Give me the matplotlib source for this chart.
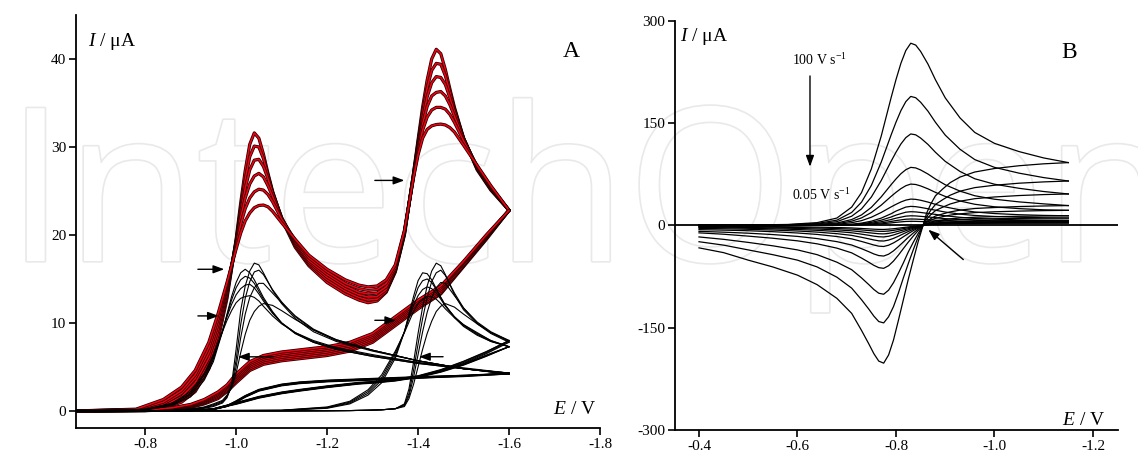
import matplotlib
matplotlib.use('Agg')
import matplotlib.pyplot as plt
from matplotlib import patheffects as pe

plt.rcParams['font.family'] = ['Liberation Serif', 'DejaVu Serif']
plt.rcParams['mathtext.fontset'] = 'custom'
plt.rcParams['mathtext.rm'] = 'Liberation Serif'
plt.rcParams['mathtext.it'] = 'Liberation Serif:italic'
plt.rcParams['axes.unicode_minus'] = False

# ---------------- Panel A data ----------------
# red family: forward scan potentials (V) and currents (uA)
red_fwd_E = [-0.65, -0.78, -0.84, -0.88, -0.91, -0.94, -0.96, -0.98, -1.00, -1.01, -1.02, -1.03, -1.04,
             -1.05, -1.06, -1.07, -1.08, -1.10, -1.13, -1.16, -1.20, -1.24, -1.27, -1.29, -1.31, -1.33,
             -1.35, -1.37, -1.39, -1.40, -1.41, -1.42, -1.43, -1.44, -1.45, -1.46, -1.47, -1.48, -1.50,
             -1.53, -1.56, -1.60]
red_fwd_1 = [0, 0.05, 0.3, 1.0, 2.2, 4.8, 8.0, 12.8, 19.5, 23.6, 27.3, 30.3, 31.6, 31.0, 29.2, 27.0, 25.0,
             21.8, 18.6, 16.5, 14.6, 13.3, 12.6, 12.3, 12.5, 13.5, 15.8, 20.0, 27.0, 30.8, 34.5, 37.6, 40.0,
             41.1, 40.6, 38.8, 36.6, 34.5, 31.0, 27.4, 25.1, 22.8]
red_fwd_2 = [0, 0.07, 0.45, 1.3, 2.7, 5.4, 8.6, 13.2, 19.3, 23.0, 26.3, 28.9, 30.1, 30.0, 28.7, 26.8, 24.9,
             21.9, 18.8, 16.7, 14.9, 13.6, 12.9, 12.6, 12.7, 13.6, 15.9, 20.1, 26.9, 30.5, 33.9, 36.7, 38.7,
             39.5, 39.4, 38.1, 36.2, 34.3, 31.0, 27.5, 25.2, 22.8]
red_fwd_3 = [0, 0.1, 0.6, 1.6, 3.2, 6.0, 9.2, 13.6, 19.2, 22.5, 25.3, 27.4, 28.5, 28.6, 27.8, 26.4, 24.8,
             22.0, 19.0, 16.9, 15.2, 13.9, 13.2, 12.95, 13.0, 13.8, 16.0, 20.2, 26.8, 30.2, 33.2, 35.7, 37.3,
             38.0, 37.9, 37.1, 35.6, 34.0, 31.0, 27.6, 25.3, 22.8]
red_fwd_4 = [0, 0.12, 0.8, 2.0, 3.7, 6.6, 9.8, 14.0, 19.0, 22.0, 24.2, 25.8, 26.7, 27.0, 26.6, 25.6, 24.4,
             21.9, 19.2, 17.1, 15.5, 14.2, 13.5, 13.3, 13.4, 14.1, 16.1, 20.3, 26.7, 29.9, 32.6, 34.6, 35.8,
             36.2, 36.3, 35.8, 34.8, 33.5, 30.9, 27.7, 25.4, 22.8]
red_fwd_5 = [0, 0.15, 1.0, 2.3, 4.1, 7.2, 10.4, 14.3, 18.7, 21.2, 23.0, 24.2, 24.9, 25.2, 25.1, 24.6, 23.8,
             21.8, 19.4, 17.4, 15.8, 14.5, 13.9, 13.7, 13.8, 14.5, 16.3, 20.4, 26.6, 29.5, 31.9, 33.4, 34.2,
             34.5, 34.5, 34.3, 33.7, 32.8, 30.7, 27.8, 25.5, 22.8]
red_fwd_6 = [0, 0.2, 1.3, 2.7, 4.6, 7.8, 11.0, 14.6, 18.4, 20.2, 21.6, 22.5, 23.1, 23.35, 23.4, 23.2, 22.7,
             21.4, 19.5, 17.7, 16.1, 14.9, 14.3, 14.1, 14.2, 14.9, 16.6, 20.5, 26.5, 29.1, 31.0, 32.0, 32.4,
             32.55, 32.6, 32.5, 32.2, 31.7, 30.2, 27.9, 25.6, 22.8]

red_rev_E = [-1.60, -1.55, -1.50, -1.45, -1.40, -1.35, -1.30, -1.25, -1.20, -1.15, -1.10, -1.06, -1.03,
             -1.00, -0.98, -0.96, -0.93, -0.90, -0.86, -0.80, -0.65]
red_rev_1 = [22.8, 19.5, 16.4, 13.3, 11.6, 9.7, 7.8, 6.8, 6.3, 6.0, 5.7, 5.3, 4.6, 3.2, 2.2, 1.4, 0.8, 0.4, 0.15, 0.03, 0]
red_rev_2 = [22.8, 19.6, 16.5, 13.4, 11.8, 9.9, 8.0, 7.0, 6.5, 6.2, 5.9, 5.5, 4.8, 3.4, 2.35, 1.55, 0.9, 0.47, 0.2, 0.04, 0]
red_rev_3 = [22.8, 19.7, 16.6, 13.6, 12.0, 10.1, 8.2, 7.2, 6.7, 6.4, 6.1, 5.7, 5.0, 3.6, 2.5, 1.7, 1.0, 0.54, 0.24, 0.05, 0]
red_rev_4 = [22.8, 19.8, 16.8, 13.8, 12.2, 10.3, 8.4, 7.4, 6.9, 6.6, 6.3, 5.9, 5.2, 3.8, 2.65, 1.85, 1.1, 0.6, 0.28, 0.06, 0]
red_rev_5 = [22.8, 19.9, 16.9, 14.0, 12.4, 10.5, 8.6, 7.6, 7.1, 6.8, 6.5, 6.1, 5.4, 4.0, 2.8, 2.0, 1.2, 0.67, 0.32, 0.07, 0]
red_rev_6 = [22.8, 20.0, 17.0, 14.2, 12.6, 10.7, 8.8, 7.8, 7.3, 7.0, 6.7, 6.3, 5.6, 4.2, 2.95, 2.15, 1.3, 0.74, 0.36, 0.08, 0]

# black family, first wave
blk1_fwd_E = [-0.65, -0.80, -0.86, -0.90, -0.93, -0.95, -0.97, -0.98, -0.99, -1.00, -1.01, -1.02, -1.03,
              -1.04, -1.05, -1.06, -1.08, -1.10, -1.13, -1.17, -1.22, -1.30, -1.40, -1.50, -1.60]
blk1_fwd_L1 = [0, 0.1, 0.6, 1.6, 3.5, 5.6, 9.0, 11.0, 13.0, 14.6, 15.7, 16.1, 15.7, 14.9, 13.9, 12.9, 11.3,
               10.0, 8.8, 7.8, 7.0, 6.2, 5.4, 4.8, 4.3]
blk1_fwd_L2 = [0, 0.12, 0.7, 1.8, 3.8, 5.9, 9.1, 10.9, 12.6, 14.0, 14.9, 15.3, 15.1, 14.5, 13.6, 12.7, 11.2,
               10.0, 8.8, 7.8, 7.0, 6.2, 5.4, 4.8, 4.3]
blk1_fwd_L3 = [0, 0.14, 0.8, 2.0, 4.1, 6.2, 9.1, 10.7, 12.1, 13.2, 13.9, 14.3, 14.4, 14.0, 13.3, 12.5, 11.1,
               10.0, 8.9, 7.9, 7.1, 6.3, 5.5, 4.8, 4.3]
blk1_fwd_L4 = [0, 0.16, 0.9, 2.2, 4.3, 6.4, 9.0, 10.3, 11.4, 12.3, 12.8, 13.0, 13.1, 12.9, 12.5, 11.9, 10.8,
               9.9, 8.9, 8.0, 7.2, 6.4, 5.5, 4.9, 4.3]
blk1_fwd_Ra = [0, 0, 0.05, 0.15, 0.3, 0.5, 0.9, 1.5, 3.0, 7.0, 11.4, 14.2, 15.9, 16.8, 16.6, 15.7, 13.7,
               12.2, 10.5, 9.0, 7.9, 6.8, 5.7, 4.8, 4.2]
blk1_fwd_Rb = [0, 0, 0.06, 0.17, 0.35, 0.6, 1.0, 1.6, 2.8, 5.8, 9.8, 12.8, 14.7, 15.8, 16.0, 15.5, 13.8,
               12.4, 10.7, 9.2, 8.0, 6.9, 5.7, 4.8, 4.2]
blk1_fwd_Rc = [0, 0, 0.07, 0.2, 0.4, 0.7, 1.1, 1.7, 2.7, 5.0, 8.3, 11.0, 12.9, 14.0, 14.5, 14.5, 13.4,
               12.3, 10.8, 9.3, 8.1, 6.9, 5.7, 4.8, 4.2]
blk1_fwd_Rd = [0, 0, 0.08, 0.22, 0.45, 0.8, 1.2, 1.8, 2.6, 4.3, 6.6, 8.7, 10.3, 11.3, 11.9, 12.2, 12.0,
               11.4, 10.4, 9.2, 8.1, 6.9, 5.7, 4.8, 4.2]

blk1_rev_E = [-1.60, -1.50, -1.40, -1.30, -1.20, -1.14, -1.10, -1.05, -1.02, -1.00, -0.98, -0.95, -0.90, -0.85, -0.65]
blk1_rev_L1 = [4.3, 4.05, 3.85, 3.65, 3.45, 3.25, 3.0, 2.4, 1.7, 1.1, 0.6, 0.2, 0.04, 0.01, 0]
blk1_rev_L2 = [4.3, 4.0, 3.8, 3.6, 3.4, 3.2, 2.95, 2.35, 1.65, 1.05, 0.55, 0.18, 0.03, 0.01, 0]
blk1_rev_L3 = [4.3, 4.0, 3.75, 3.55, 3.35, 3.15, 2.9, 2.3, 1.6, 1.0, 0.52, 0.17, 0.03, 0.01, 0]
blk1_rev_L4 = [4.3, 3.95, 3.7, 3.5, 3.3, 3.1, 2.85, 2.25, 1.55, 0.95, 0.5, 0.16, 0.03, 0.01, 0]
blk1_rev_Ra = [4.2, 4.05, 3.9, 3.7, 3.5, 3.3, 3.05, 2.45, 1.75, 1.15, 0.62, 0.21, 0.04, 0.01, 0]
blk1_rev_Rb = [4.2, 4.0, 3.85, 3.65, 3.45, 3.25, 3.0, 2.4, 1.7, 1.1, 0.58, 0.2, 0.04, 0.01, 0]
blk1_rev_Rc = [4.2, 3.95, 3.8, 3.6, 3.4, 3.2, 2.95, 2.35, 1.65, 1.05, 0.55, 0.18, 0.03, 0.01, 0]
blk1_rev_Rd = [4.2, 3.9, 3.75, 3.55, 3.35, 3.15, 2.9, 2.3, 1.6, 1.0, 0.52, 0.17, 0.03, 0.01, 0]

# black family, second wave
blk2_fwd_E = [-0.65, -1.10, -1.20, -1.25, -1.29, -1.32, -1.35, -1.37, -1.38, -1.39, -1.40, -1.41, -1.42,
              -1.43, -1.44, -1.45, -1.46, -1.48, -1.50, -1.53, -1.56, -1.60]
blk2_fwd_M1 = [0, 0.05, 0.3, 0.8, 1.8, 3.2, 6.0, 9.0, 11.0, 13.0, 14.8, 15.7, 15.6, 14.9, 13.9, 12.9, 12.0,
               10.6, 9.6, 8.6, 7.9, 7.3]
blk2_fwd_M2 = [0, 0.06, 0.35, 0.9, 2.0, 3.5, 6.3, 9.0, 10.8, 12.5, 14.0, 14.8, 15.0, 14.6, 13.8, 12.9, 12.0,
               10.7, 9.7, 8.7, 7.9, 7.3]
blk2_fwd_M3 = [0, 0.07, 0.4, 1.0, 2.2, 3.8, 6.6, 9.0, 10.5, 12.0, 13.1, 13.8, 14.1, 13.9, 13.4, 12.7, 11.9,
               10.7, 9.8, 8.8, 8.0, 7.3]
blk2_fwd_M4 = [0, 0.08, 0.45, 1.1, 2.4, 4.1, 6.8, 8.9, 10.1, 11.3, 12.2, 12.7, 13.0, 13.0, 12.7, 12.2, 11.6,
               10.6, 9.8, 8.9, 8.0, 7.3]
blk2_fwd_N1 = [0, 0, 0.02, 0.04, 0.08, 0.13, 0.25, 0.8, 2.5, 5.5, 8.8, 11.8, 14.2, 15.9, 16.8, 16.5, 15.5,
               13.2, 11.5, 9.9, 8.8, 7.8]
blk2_fwd_N2 = [0, 0, 0.02, 0.04, 0.08, 0.13, 0.25, 0.7, 2.0, 4.6, 7.6, 10.5, 12.9, 14.7, 15.7, 16.0, 15.4,
               13.4, 11.7, 10.0, 8.9, 7.9]
blk2_fwd_N3 = [0, 0, 0.02, 0.04, 0.08, 0.13, 0.25, 0.6, 1.7, 3.8, 6.4, 9.0, 11.2, 12.9, 14.0, 14.6, 14.5,
               13.1, 11.7, 10.1, 9.0, 8.0]
blk2_fwd_N4 = [0, 0, 0.02, 0.04, 0.08, 0.13, 0.25, 0.5, 1.4, 3.0, 5.0, 7.0, 8.8, 10.2, 11.3, 11.9, 12.2,
               11.8, 11.0, 9.9, 8.9, 8.0]

blk2_rev_E = [-1.60, -1.55, -1.50, -1.45, -1.40, -1.35, -1.30, -1.27, -1.20, -1.14, -1.10, -1.05, -1.00, -0.95, -0.90, -0.65]
blk2_rev_M1 = [7.3, 6.2, 5.2, 4.4, 3.8, 3.4, 3.15, 3.05, 2.65, 2.25, 1.95, 1.45, 0.75, 0.18, 0.03, 0]
blk2_rev_M2 = [7.3, 6.25, 5.25, 4.45, 3.85, 3.45, 3.2, 3.1, 2.7, 2.3, 2.0, 1.5, 0.8, 0.2, 0.03, 0]
blk2_rev_M3 = [7.3, 6.3, 5.3, 4.5, 3.9, 3.5, 3.25, 3.15, 2.75, 2.35, 2.05, 1.55, 0.85, 0.22, 0.04, 0]
blk2_rev_M4 = [7.3, 6.35, 5.35, 4.55, 3.95, 3.55, 3.3, 3.2, 2.8, 2.4, 2.1, 1.6, 0.9, 0.24, 0.04, 0]
blk2_rev_N1 = [7.8, 6.5, 5.4, 4.5, 3.85, 3.45, 3.2, 3.1, 2.7, 2.3, 2.0, 1.5, 0.8, 0.2, 0.03, 0]
blk2_rev_N2 = [7.9, 6.6, 5.5, 4.6, 3.9, 3.5, 3.25, 3.15, 2.75, 2.35, 2.05, 1.55, 0.85, 0.22, 0.04, 0]
blk2_rev_N3 = [8.0, 6.7, 5.6, 4.65, 3.95, 3.55, 3.3, 3.2, 2.8, 2.4, 2.1, 1.6, 0.9, 0.24, 0.04, 0]
blk2_rev_N4 = [8.0, 6.75, 5.65, 4.7, 4.0, 3.6, 3.35, 3.25, 2.85, 2.45, 2.15, 1.65, 0.95, 0.26, 0.05, 0]

# arrows in panel A: (tail E, tail I, tip E, tip I)
arrowsA = [(-0.916, 16.1, -0.974, 16.1), (-0.916, 10.8, -0.962, 10.8), (-1.082, 6.15, -1.004, 6.15),
           (-1.305, 26.2, -1.370, 26.2), (-1.305, 10.3, -1.352, 10.3), (-1.455, 6.16, -1.402, 6.16)]

xticksA = [-0.8, -1.0, -1.2, -1.4, -1.6, -1.8]
xlabelsA = ['-0.8', '-1.0', '-1.2', '-1.4', '-1.6', '-1.8']
yticksA = [0, 10, 20, 30, 40]

# ---------------- Panel B data ----------------
b_fwd_E = [-0.40, -0.50, -0.58, -0.64, -0.68, -0.71, -0.73, -0.75, -0.77, -0.79, -0.80, -0.81, -0.82,
           -0.83, -0.84, -0.85, -0.865, -0.88, -0.90, -0.93, -0.96, -1.00, -1.05, -1.10, -1.15]
b_fwd = [
    [0, 0.5, 1.3, 4, 10.7, 26.7, 48, 82.8, 130.8, 186.9, 213.6, 237.6, 256.3, 267, 264.3, 255, 236.3, 213.6, 186.9, 157.5, 136.2, 120.2, 108.1, 98.8, 92],
    [0, 0.4, 0.9, 2.8, 7.6, 18.9, 34, 58.6, 92.6, 132.3, 151.2, 168.2, 181.4, 189, 187.1, 180.5, 167.3, 151.2, 132.3, 111.5, 96.4, 85, 76.5, 70, 65],
    [0, 0.3, 0.7, 2.0, 5.4, 13.4, 24.1, 41.5, 65.7, 93.8, 107.2, 119.3, 128.6, 134, 132.7, 128, 118.6, 107.2, 93.8, 79, 68.3, 60.3, 54.3, 49.6, 46],
    [0, 0.2, 0.4, 1.3, 3.4, 8.5, 15.3, 26.4, 41.7, 59.5, 68, 75.7, 81.6, 85, 84.2, 81.2, 75.2, 68, 59.5, 50.2, 43.4, 38.3, 34.4, 31.5, 29],
    [0, 0.1, 0.3, 0.9, 2.4, 6.1, 10.9, 18.8, 29.6, 42.4, 48.4, 53.8, 58.1, 60.5, 59.9, 57.8, 53.5, 48.4, 42.4, 35.7, 30.9, 27.2, 24.5, 22.8, 22],
    [0, 0.1, 0.2, 0.6, 1.5, 3.9, 6.9, 11.9, 18.9, 27, 30.8, 34.3, 37, 38.5, 38.1, 36.8, 34.1, 30.8, 27, 22.7, 19.6, 17.3, 15.6, 14.6, 14],
    [0, 0.03, 0.08, 0.3, 0.7, 1.7, 3.3, 6.1, 10.6, 17, 20.9, 23.9, 26.8, 27.8, 27.4, 26.3, 24.3, 22.2, 19.5, 16.4, 14.5, 13.0, 11.9, 11.1, 10.7],
    [0, 0.02, 0.06, 0.2, 0.5, 1.2, 2.4, 4.4, 7.6, 12.2, 15, 17.2, 19.3, 20, 19.7, 18.9, 17.5, 16, 14, 11.8, 10.2, 9.0, 8.1, 7.6, 7.3],
    [0, 0.01, 0.04, 0.14, 0.35, 0.8, 1.7, 3.1, 5.3, 8.5, 10.5, 12, 13.5, 14, 13.8, 13.2, 12.3, 11.2, 9.8, 8.4, 7.4, 6.7, 6.3, 6.0, 5.9],
    [0, 0.01, 0.03, 0.1, 0.23, 0.56, 1.1, 2.0, 3.5, 5.7, 7.0, 8.0, 9.0, 9.3, 9.2, 8.8, 8.2, 7.5, 6.6, 5.8, 5.2, 4.8, 4.6, 4.5, 4.4],
    [0, 0.01, 0.02, 0.06, 0.15, 0.35, 0.7, 1.3, 2.2, 3.6, 4.4, 5.1, 5.7, 5.9, 5.85, 5.6, 5.2, 4.8, 4.35, 3.95, 3.7, 3.55, 3.5, 3.45, 3.4],
]
b_rev_E = [-1.15, -1.10, -1.05, -1.00, -0.96, -0.93, -0.91, -0.895, -0.88, -0.87, -0.862, -0.855,
           -0.845, -0.835, -0.825, -0.815, -0.805, -0.795, -0.785, -0.775, -0.765, -0.755, -0.745,
           -0.73, -0.71, -0.68, -0.64, -0.60, -0.55, -0.50, -0.45, -0.40]
b_rev = [
    [92, 90.2, 87.4, 83.3, 78.2, 70.8, 62.6, 53.4, 43.2, 30.4, 17.5, 0,
     -24, -51, -79, -109, -139, -168, -190, -202, -199, -188, -174, -154, -129, -107, -87, -73, -61, -51, -40, -33],
    [65, 63.7, 61.8, 58.8, 55.3, 50.1, 44.2, 37.7, 30.6, 21.5, 12.4, 0,
     -17, -36, -56, -77, -99, -119, -134, -143, -141, -133, -123, -109, -92, -76, -61, -51, -43, -36, -29, -24],
    [46, 45.1, 43.7, 41.6, 39.1, 35.4, 31.3, 26.7, 21.6, 15.2, 8.7, 0,
     -12, -25, -39, -55, -70, -84, -95, -101, -99.5, -94, -87, -77, -65, -54, -43, -36, -30, -25, -20.5, -17],
    [29, 28.4, 27.6, 26.2, 24.7, 22.3, 19.7, 16.8, 13.6, 9.6, 5.5, 0,
     -7.6, -15.8, -24.6, -34, -43.5, -52.3, -59.2, -63, -62, -58.6, -54.2, -47.9, -40.3, -33.4, -27.1, -22.7, -18.9, -15.8, -13, -11],
    [22, 21.6, 20.9, 19.9, 18.7, 16.9, 15, 12.8, 10.3, 7.3, 4.2, 0,
     -5.4, -11.3, -17.6, -24.3, -31, -37.4, -42.3, -45, -44.3, -41.9, -38.7, -34.2, -28.8, -23.9, -19.4, -16.2, -13.5, -11.5, -10, -8.8],
    [14, 13.7, 13.3, 12.7, 11.9, 10.8, 9.5, 8.1, 6.6, 4.6, 2.7, 0,
     -3.7, -7.8, -12.1, -16.7, -21.4, -25.7, -29.1, -31, -30.5, -28.8, -26.7, -23.6, -19.8, -16.4, -13.3, -11.2, -9.3, -7.9, -7, -6.3],
    [10.7, 10.5, 10.2, 9.7, 9.1, 8.2, 7.3, 6.2, 5.0, 3.5, 2.0, 0,
     -2.8, -5.8, -9, -12.4, -15.9, -19.1, -21.6, -23, -22.7, -21.4, -19.8, -17.5, -14.7, -12.2, -9.9, -8.3, -6.9, -5.8, -5, -4.4],
    [7.3, 7.2, 6.9, 6.6, 6.2, 5.6, 5.0, 4.2, 3.4, 2.4, 1.4, 0,
     -2, -4.3, -6.6, -9.2, -11.7, -14.1, -16, -17, -16.7, -15.8, -14.6, -12.9, -10.9, -9, -7.3, -6.1, -5.1, -4.3, -3.5, -3.0],
    [5.9, 5.8, 5.6, 5.3, 5.0, 4.5, 4.0, 3.4, 2.8, 1.9, 1.1, 0,
     -1.5, -3.1, -4.9, -6.8, -8.6, -10.4, -11.8, -12.5, -12.3, -11.6, -10.8, -9.5, -8, -6.6, -5.4, -4.5, -3.8, -3.1, -2.6, -2.2],
    [4.4, 4.3, 4.2, 4.0, 3.7, 3.4, 3.0, 2.6, 2.1, 1.5, 0.8, 0,
     -1.1, -2.2, -3.4, -4.8, -6.1, -7.3, -8.3, -8.8, -8.7, -8.2, -7.6, -6.7, -5.6, -4.7, -3.8, -3.2, -2.6, -2.2, -1.8, -1.5],
    [3.4, 3.3, 3.2, 3.1, 2.9, 2.6, 2.3, 2.0, 1.6, 1.1, 0.65, 0,
     -0.7, -1.5, -2.3, -3.2, -4.1, -5.0, -5.6, -6.0, -5.9, -5.6, -5.2, -4.6, -3.8, -3.2, -2.6, -2.2, -1.8, -1.5, -1.2, -1.0],
]
xticksB = [-0.4, -0.6, -0.8, -1.0, -1.2]
xlabelsB = ['-0.4', '-0.6', '-0.8', '-1.0', '-1.2']
yticksB = [-300, -150, 0, 150, 300]
yticklabelsB = ['-300', '-150', '0', '150', '300']

# ---------------- Figure ----------------
W, H = 1138, 454
fig = plt.figure(figsize=(W / 100, H / 100), dpi=100)

# faint outlined watermark behind the plots
fig.text(6 / W, 1 - 261 / H, 'IntechOpen', fontfamily='Open Sans', fontsize=154,
         color='white', va='baseline', ha='left', zorder=-10,
         path_effects=[pe.Stroke(linewidth=2.4, foreground='#e9e9e9'), pe.Normal()])

ARROW = '-|>,head_length=0.6,head_width=0.22'


def style_axes(ax):
    for s in ('top', 'right'):
        ax.spines[s].set_visible(False)
    for s in ('left', 'bottom'):
        ax.spines[s].set_linewidth(1.3)
    ax.set_facecolor('none')
    ax.tick_params(direction='out', length=5, width=1.2, labelsize=11, pad=2, colors='black')


# Panel A
axA = fig.add_axes([76 / W, 1 - 428 / H, 524 / W, 413 / H])
style_axes(axA)
axA.set_xlim(-0.648, -1.80)
axA.set_ylim(-1.94, 45.0)

red_fwd = [red_fwd_1, red_fwd_2, red_fwd_3, red_fwd_4, red_fwd_5, red_fwd_6]
red_rev = [red_rev_1, red_rev_2, red_rev_3, red_rev_4, red_rev_5, red_rev_6]
for f, r in zip(red_fwd, red_rev):
    for E, I in ((red_fwd_E, f), (red_rev_E, r)):
        axA.plot(E, I, color='#1a0000', lw=2.3, solid_joinstyle='round', solid_capstyle='round', zorder=2)
        axA.plot(E, I, color='#f00010', lw=1.2, solid_joinstyle='round', solid_capstyle='round', zorder=2)

blk1_fwd = [blk1_fwd_L1, blk1_fwd_L2, blk1_fwd_L3, blk1_fwd_L4, blk1_fwd_Ra, blk1_fwd_Rb, blk1_fwd_Rc, blk1_fwd_Rd]
blk1_rev = [blk1_rev_L1, blk1_rev_L2, blk1_rev_L3, blk1_rev_L4, blk1_rev_Ra, blk1_rev_Rb, blk1_rev_Rc, blk1_rev_Rd]
for f, r in zip(blk1_fwd, blk1_rev):
    axA.plot(blk1_fwd_E, f, color='black', lw=0.8, zorder=4)
    axA.plot(blk1_rev_E, r, color='black', lw=0.8, zorder=4)

blk2_fwd = [blk2_fwd_M1, blk2_fwd_M2, blk2_fwd_M3, blk2_fwd_M4, blk2_fwd_N1, blk2_fwd_N2, blk2_fwd_N3, blk2_fwd_N4]
blk2_rev = [blk2_rev_M1, blk2_rev_M2, blk2_rev_M3, blk2_rev_M4, blk2_rev_N1, blk2_rev_N2, blk2_rev_N3, blk2_rev_N4]
for f, r in zip(blk2_fwd, blk2_rev):
    axA.plot(blk2_fwd_E, f, color='black', lw=0.8, zorder=4)
    axA.plot(blk2_rev_E, r, color='black', lw=0.8, zorder=4)

for te, ti, he, hi in arrowsA:
    axA.annotate('', xy=(he, hi), xytext=(te, ti),
                 arrowprops=dict(arrowstyle=ARROW, color='black', lw=1.0, mutation_scale=11,
                                 shrinkA=0, shrinkB=0), zorder=6)

axA.set_xticks(xticksA)
axA.set_xticklabels(xlabelsA)
axA.set_yticks(yticksA)
axA.text(-0.674, 41.5, r'$I$ / μA', fontsize=14, ha='left', va='baseline')
axA.text(-1.791, -0.4, r'$E$ / V', fontsize=14, ha='right', va='baseline')
axA.text(-1.736, 40.2, 'A', fontsize=17, ha='center', va='baseline')

# Panel B
axB = fig.add_axes([675 / W, 1 - 430 / H, 443.3 / W, 409.3 / H])
style_axes(axB)
axB.set_xlim(-0.3513, -1.2514)
axB.set_ylim(-300, 300)
axB.axhline(0, color='black', lw=1.3, zorder=3)
for f, r in zip(b_fwd, b_rev):
    axB.plot(b_fwd_E, f, color='black', lw=0.9, zorder=4)
    axB.plot(b_rev_E, r, color='black', lw=0.9, zorder=4)

axB.set_xticks(xticksB)
axB.set_xticklabels(xlabelsB)
axB.set_yticks(yticksB)
axB.set_yticklabels(yticklabelsB)
axB.text(-0.361, 270, r'$I$ / μA', fontsize=14, ha='left', va='baseline')
axB.text(-1.224, -292, r'$E$ / V', fontsize=14, ha='right', va='baseline')
axB.text(-1.152, 245, 'B', fontsize=17, ha='center', va='baseline')
axB.text(-0.589, 235, r'100 V s$^{\mathregular{-1}}$', fontsize=10, ha='left', va='baseline')
axB.text(-0.589, 37, r'0.05 V s$^{\mathregular{-1}}$', fontsize=10, ha='left', va='baseline')
axB.annotate('', xy=(-0.6254, 86), xytext=(-0.6254, 219),
             arrowprops=dict(arrowstyle=ARROW, color='black', lw=1.0, mutation_scale=11, shrinkA=0, shrinkB=0))
axB.annotate('', xy=(-0.8656, -6.3), xytext=(-0.9367, -50.2),
             arrowprops=dict(arrowstyle=ARROW, color='black', lw=1.0, mutation_scale=11, shrinkA=0, shrinkB=0))

fig.savefig('out.png', dpi=100)
